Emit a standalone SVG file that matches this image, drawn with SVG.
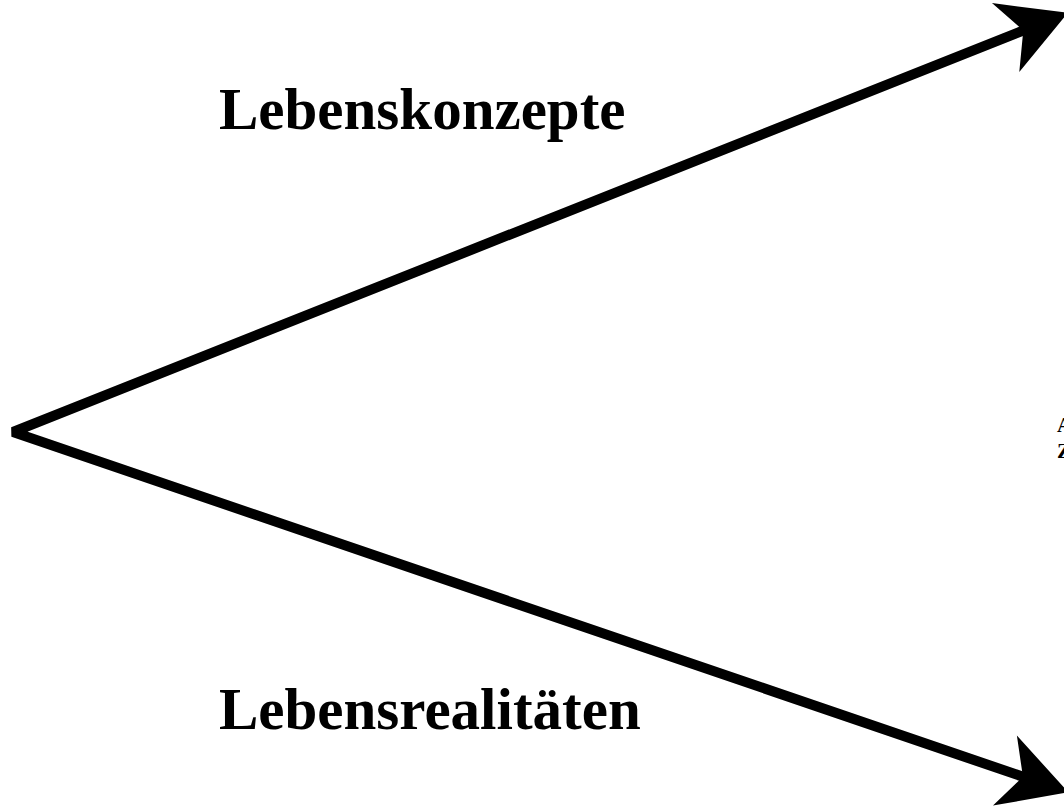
<svg xmlns="http://www.w3.org/2000/svg" width="1064" height="806" viewBox="0 0 1064 806">
  <style>
    .lbl { font-family: "Liberation Serif", "Times New Roman", serif; font-weight: bold; font-size: 59px; fill: #000; }
    .edge { font-family: "Liberation Serif", "Times New Roman", serif; font-weight: bold; font-size: 21px; fill: #000; }
    .conn { fill: none; stroke: #000; stroke-width: 10; stroke-linejoin: miter; stroke-miterlimit: 2.5; }
  </style>
  <defs>
    <marker id="head" markerUnits="userSpaceOnUse" viewBox="-30 -40 80 80" refX="0" refY="0" markerWidth="80" markerHeight="80" orient="auto-start-reverse" overflow="visible">
      <path d="M44,0 L-23,-37 L-4,0 L-23,37 Z" fill="#000"/>
    </marker>
  </defs>
  <rect width="1064" height="806" fill="#fff"/>
  <g id="connectors">
    <path class="conn" d="M1027,29 L13,432 L1026.7,778" marker-start="url(#head)" marker-end="url(#head)"/>
  </g>
  <g id="node-lebenskonzepte">
    <text class="lbl" x="219" y="129">Lebenskonzepte</text>
  </g>
  <g id="node-lebensrealitaeten">
    <text class="lbl" x="219" y="729">Lebensrealitäten</text>
  </g>
  <g id="node-right">
    <text class="edge" x="1057" y="432">A</text>
    <text class="edge" x="1057" y="458">Z</text>
  </g>
</svg>
